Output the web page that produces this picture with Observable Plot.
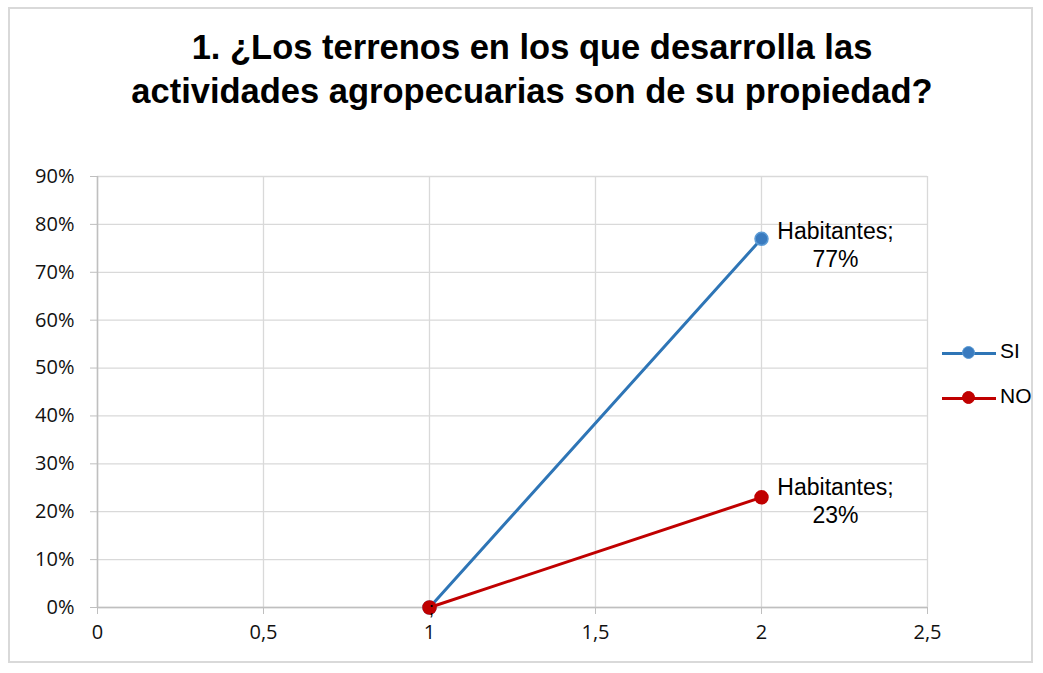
<!DOCTYPE html>
<html>
<head>
<meta charset="utf-8">
<script src="https://cdn.jsdelivr.net/npm/d3@7"></script>
<script src="https://cdn.jsdelivr.net/npm/@observablehq/plot@0.6"></script>
<style>
  html, body { margin: 0; padding: 0; background: #fff; }
  #wrap { position: relative; width: 1043px; height: 673px; overflow: hidden; }
  #frame { position: absolute; left: 8px; top: 7px; width: 1025px; height: 656px; border: 2px solid #d9d9d9; box-sizing: border-box; }
  #title { position: absolute; left: 0; width: 1064px; top: 25px; text-align: center;
    font-family: "Liberation Sans", Arial, sans-serif; font-weight: bold; font-size: 34.5px; line-height: 44px; color: #000; }
  #legend { position: absolute; left: 942px; top: 338px; font-family: "Liberation Sans", Arial, sans-serif; font-size: 21px; color: #000; }
  .item { position: relative; height: 45px; }
  .item .ln { position: absolute; left: 0; top: 14px; width: 54px; height: 3px; }
  .item .mk { position: absolute; left: 20px; top: 8px; width: 13px; height: 13px; border-radius: 50%; box-sizing: border-box; }
  .item .tx { position: absolute; left: 58px; top: 1px; }
  #chart { position: absolute; left: 0; top: 0; }
</style>
</head>
<body>
<div id="wrap">
  <div id="frame"></div>
  <div id="chart"></div>
  <div id="title">1. ¿Los terrenos en los que desarrolla las<br>actividades agropecuarias son de su propiedad?</div>
  <div id="legend"></div>
</div>
<script>
// ---- data ----
const seriesNames = ["SI", "NO"];
const xValues = [1, 2];
const siValues = [0, 0.77];
const noValues = [0, 0.23];
const labelName = "Habitantes";
const xTicks = [0, 0.5, 1, 1.5, 2, 2.5];
const yTicks = [0, 0.1, 0.2, 0.3, 0.4, 0.5, 0.6, 0.7, 0.8, 0.9];
const seriesColors = ["#2e75b6", "#c00000"];
const markerStrokes = ["#5b9bd5", "#c00000"];
const markerFills = ["#3a7bbf", "#c00000"];
const labelDy = [5, 3];

const valuesBySeries = [siValues, noValues];
const rows = seriesNames.flatMap((s, i) =>
  xValues.map((x, j) => ({series: s, idx: i, x, y: valuesBySeries[i][j]}))
);
const lastX = xValues[xValues.length - 1];
const startRows = rows.filter(d => d.x === xValues[0] && d.series === seriesNames[seriesNames.length - 1]);

const fmtX = d => String(d).replace(".", ",");
const fmtY = d => Math.round(d * 100) + "%";

const plot = Plot.plot({
  width: 1043,
  height: 673,
  marginLeft: 97,
  marginRight: 116,
  marginTop: 176,
  marginBottom: 66,
  style: {fontFamily: "'Open Sans', sans-serif", fontSize: "20px", color: "#111", background: "transparent", overflow: "visible"},
  x: {domain: [0, 2.5], ticks: xTicks, tickFormat: fmtX, label: null},
  y: {domain: [0, 0.9], ticks: yTicks, tickFormat: fmtY, label: null},
  marks: [
    Plot.gridX(xTicks, {stroke: "#d9d9d9", strokeOpacity: 1, strokeWidth: 1.3}),
    Plot.gridY(yTicks, {stroke: "#d9d9d9", strokeOpacity: 1, strokeWidth: 1.3}),
    Plot.ruleY([0], {stroke: "#bfbfbf", strokeWidth: 1.5}),
    Plot.ruleX([0], {stroke: "#bfbfbf", strokeWidth: 1.5}),
    Plot.axisY({ticks: yTicks, tickFormat: fmtY, tickSize: 7, tickPadding: 16, stroke: "#bfbfbf", fill: "#111", label: null}),
    Plot.axisX({ticks: xTicks, tickFormat: fmtX, tickSize: 7, tickPadding: 10, stroke: "#bfbfbf", fill: "#111", label: null}),
    ...seriesNames.map((s, i) => [
      Plot.line(rows.filter(d => d.series === s), {x: "x", y: "y", stroke: seriesColors[i], strokeWidth: 3}),
      Plot.dot(rows.filter(d => d.series === s), {x: "x", y: "y", r: 6.5, fill: markerFills[i], stroke: markerStrokes[i], strokeWidth: 1.5})
    ]),
    ...seriesNames.map((s, i) =>
      Plot.text(rows.filter(d => d.series === s && d.x === lastX), {
        x: "x", y: "y",
        text: d => `${labelName};\n${fmtY(d.y)}`,
        dx: 74, dy: labelDy[i],
        lineAnchor: "middle", lineHeight: 1.22,
        textAnchor: "middle",
        fontFamily: "'Liberation Sans', Arial, sans-serif", fontSize: 23, fill: "#000"
      })
    ),
    Plot.text(startRows, {
      x: "x", y: "y", text: d => ";",
      dx: 2, dy: 1, lineAnchor: "middle", textAnchor: "middle",
      fontFamily: "'Liberation Sans', Arial, sans-serif", fontSize: 19, fill: "#000"
    })
  ]
});
document.getElementById("chart").appendChild(plot);

// legend
const legend = document.getElementById("legend");
seriesNames.forEach((s, i) => {
  const item = document.createElement("div");
  item.className = "item";
  item.innerHTML = `<div class="ln" style="background:${seriesColors[i]}"></div>` +
    `<div class="mk" style="background:${markerFills[i]};border:1.5px solid ${markerStrokes[i]}"></div>` +
    `<div class="tx">${s}</div>`;
  legend.appendChild(item);
});
</script>
</body>
</html>
